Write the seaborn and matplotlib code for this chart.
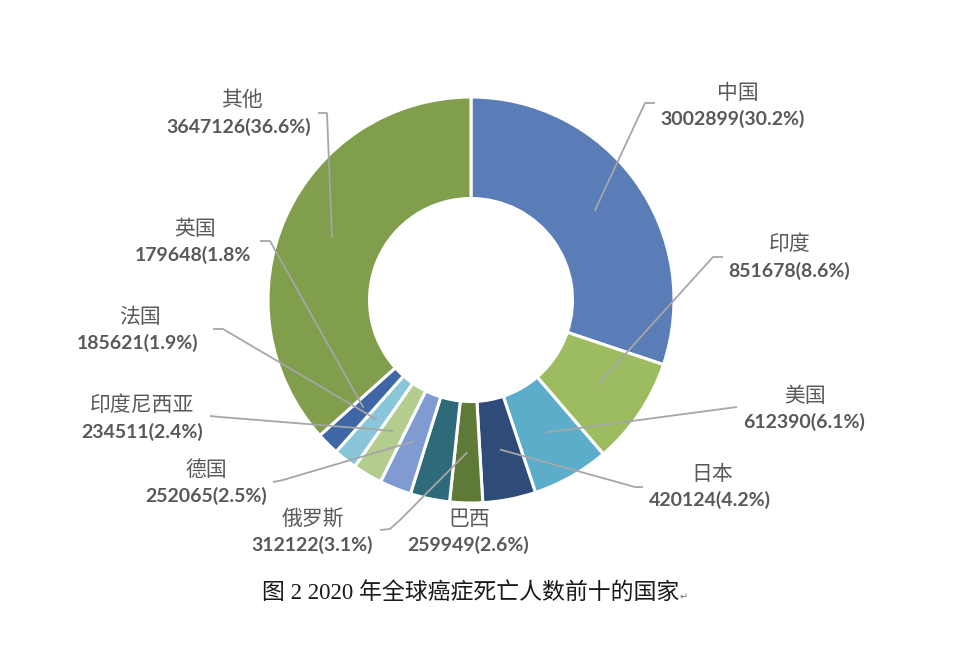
import numpy as np
import matplotlib
matplotlib.use("Agg")
import matplotlib.pyplot as plt
import seaborn as sns

# ---- data ----
countries = ["中国", "印度", "美国", "日本", "巴西", "俄罗斯", "德国",
             "印度尼西亚", "法国", "英国", "其他"]
deaths = [3002899, 851678, 612390, 420124, 259949, 312122, 252065,
          234511, 185621, 179648, 3647126]
pct_labels = ["30.2%", "8.6%", "6.1%", "4.2%", "2.6%", "3.1%", "2.5%",
              "2.4%", "1.9%", "1.8", "36.6%"]
caption = "图 2 2020 年全球癌症死亡人数前十的国家"

# ---- style ----
colors = ["#5A7DB8", "#9DBB5F", "#5BADCA", "#2E4B7A", "#5E7A36", "#2E6A7A",
          "#7F9BD2", "#B4CC8D", "#89C6D9", "#3F66A5", "#809E4C"]

sns.set_theme(style="white")
plt.rcParams["font.family"] = ["Noto Sans CJK SC", "DejaVu Sans"]

W, H = 960, 655
cx, cy, R = 471, 300, 203

fig = plt.figure(figsize=(W / 100, H / 100), dpi=100)
fig.patch.set_facecolor("white")
ax = fig.add_axes([0, 0, 1, 1])

wedges, _ = ax.pie(deaths, colors=colors, startangle=90, counterclock=False,
                   radius=1.0,
                   wedgeprops=dict(width=0.5, edgecolor="white", linewidth=2.2))
ax.set_xlim(-cx / R, (W - cx) / R)
ax.set_ylim(-(H - cy) / R, cy / R)
ax.set_aspect("equal")
ax.axis("off")


def P(x, y):
    return ((x - cx) / R, (cy - y) / R)


# label layout (pixel positions): name centre, value centre, leader path (elbow -> end)
layout = {
    "中国": ((738, 93), (733, 119), [(645, 103), (655, 103)]),
    "印度": ((790, 244), (789, 271), [(713, 257), (723, 257)]),
    "美国": ((805, 396), (804, 422), [(737, 407)]),
    "日本": ((712, 474), (710, 500), [(635, 487), (643, 487)]),
    "巴西": ((469, 519), (468, 545), [(400, 520), (390, 529), (380, 530)]),
    "俄罗斯": ((313, 519), (312, 545), None),
    "德国": ((206, 470), (206, 496), [(283, 480), (273, 482)]),
    "印度尼西亚": ((142, 405), (142, 432), [(220, 417), (210, 416)]),
    "法国": ((140, 317), (138, 343), [(223, 329), (213, 329)]),
    "英国": ((195, 229), (193, 255), [(270, 241), (260, 241)]),
    "其他": ((242, 100), (239, 127), [(327, 113), (318, 113)]),
}

text_col = "#595959"
line_col = "#A6A6A6"

for w, name, val, pct in zip(wedges, countries, deaths, pct_labels):
    npos, vpos, path = layout[name]
    ax.text(*P(*npos), name, ha="center", va="center", fontsize=15,
            color=text_col, family=["Noto Sans CJK SC", "DejaVu Sans"])
    ax.text(*P(*vpos), f"{val}({pct})" if pct.endswith("%") else f"{val}({pct}%",
            ha="center", va="center", fontsize=14, fontweight="bold",
            color=text_col, family=["Lato", "DejaVu Sans"])
    if path:
        mid = np.deg2rad((w.theta1 + w.theta2) / 2)
        start = (0.75 * np.cos(mid), 0.75 * np.sin(mid))
        pts = [start] + [P(*p) for p in path]
        xs, ys = zip(*pts)
        ax.plot(xs, ys, color=line_col, lw=1.3, solid_capstyle="butt")

ax.text(*P(471, 593), caption, ha="center", va="center", fontsize=16.5,
        color="#1a1a1a", family=["Liberation Serif", "Noto Sans CJK SC"])
ax.text(*P(680, 597), "↵", ha="left", va="center", fontsize=7,
        color="#777777", family=["DejaVu Sans"])

fig.savefig("out.png", dpi=100, facecolor="white")
